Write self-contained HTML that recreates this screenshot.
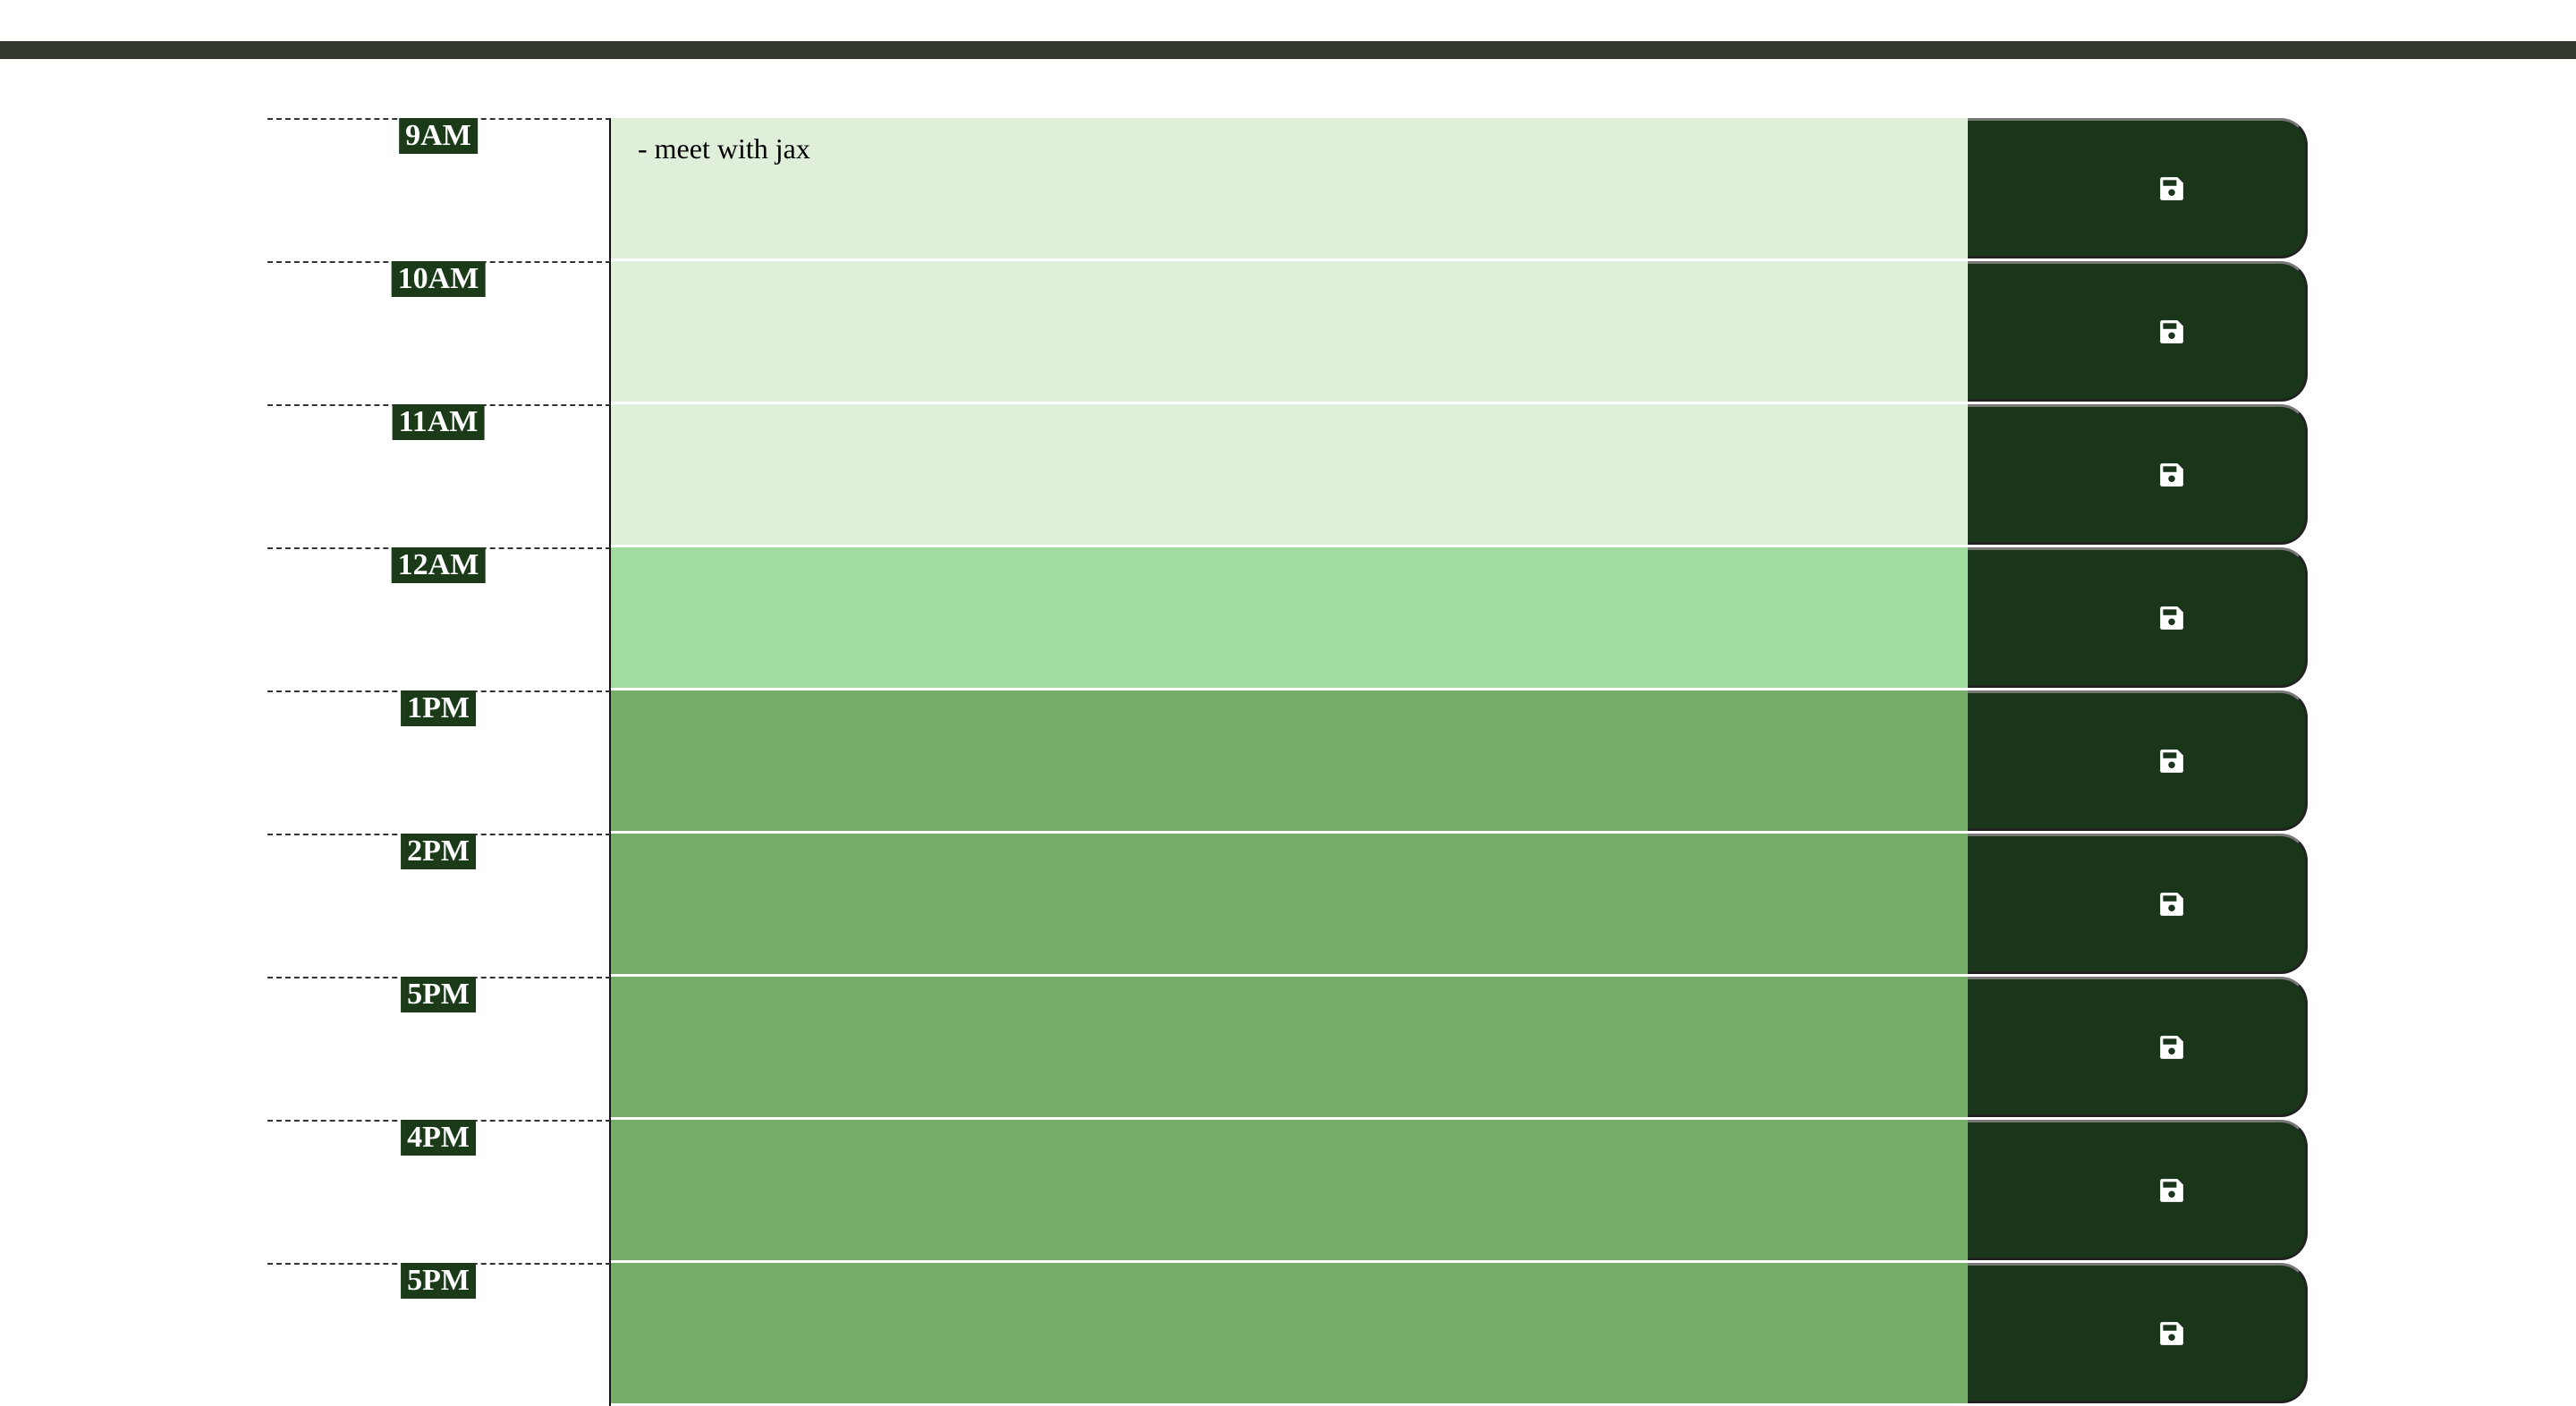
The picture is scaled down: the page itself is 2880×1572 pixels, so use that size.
<!DOCTYPE html>
<html><head><meta charset="utf-8"><style>
body{margin:0;width:2880px;height:1570px;overflow:hidden;background:#fff;position:relative;font-family:"Liberation Serif",serif}
.hdr{position:absolute;left:0;top:46px;width:2880px;height:20px;background:#323a30}
.row{position:absolute;left:299px;width:2281px;height:160px}
.hour{position:absolute;left:0;top:0;width:384px;height:160px;border-top:2px dashed #333;border-right:2px solid #111;box-sizing:border-box}
.lbl{position:absolute;top:-2px;left:50%;transform:translateX(-50%);background:#1a3a18;color:#fff;font-weight:bold;font-size:34px;line-height:40px;padding:0 7px;white-space:nowrap}
.ta{position:absolute;left:384px;top:0;width:1517px;height:157px;font-size:32px;padding:16px 30px;box-sizing:border-box;color:#000}
.btn{position:absolute;left:1901px;top:0;width:380px;height:157px;background:#19361a;border-top:3px solid #777;border-right:3px solid #222;border-bottom:3px solid #222;border-radius:0 30px 30px 0;box-sizing:border-box}
.btn svg{position:absolute;left:228px;top:50%;transform:translate(-50%,-50%)}
</style></head><body>
<div class="hdr"></div>
<div id="rows"></div>
<script>
const hours=["9AM","10AM","11AM","12AM","1PM","2PM","5PM","4PM","5PM"];
const states=["past","past","past","present","future","future","future","future","future"];
const notes=["- meet with jax","","","","","","","",""];
const colors={past:"#e0efd9",present:"#a2dda0",future:"#75ae69"};
const c=document.getElementById('rows');
hours.forEach((h,i)=>{
 const r=document.createElement('div');r.className='row';r.style.top=(132+i*160)+'px';
 
 
 r.innerHTML='<div class="hour"><span class="lbl">'+h+'</span></div>'+
 '<div class="ta" style="background:'+colors[states[i]]+'">'+notes[i]+'</div>'+
 '<div class="btn"><svg width="30" height="30" viewBox="0 0 28 28"><path d="M2 4a2 2 0 0 1 2-2h16l6 6v16a2 2 0 0 1-2 2H4a2 2 0 0 1-2-2z" fill="#fff"/><rect x="5" y="5" width="14" height="6" fill="#19361a"/><circle cx="14" cy="18" r="3.5" fill="#19361a"/></svg></div>';
 c.appendChild(r);
});
</script>
</body></html>
